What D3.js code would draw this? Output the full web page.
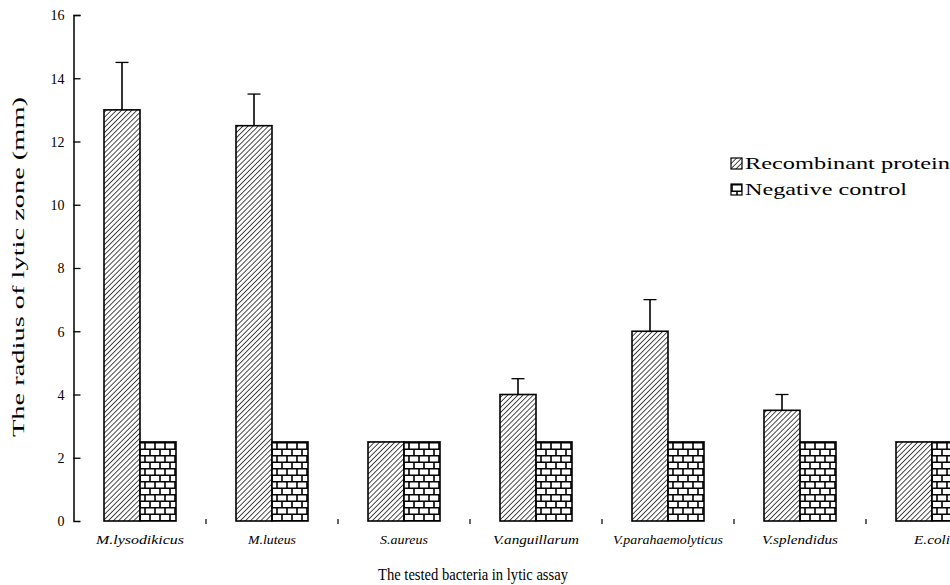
<!DOCTYPE html>
<html><head><meta charset="utf-8">
<script src="https://cdn.jsdelivr.net/npm/d3@7"></script>
<style>body{margin:0;background:#fff}svg{display:block}text{font-family:"Liberation Serif","Times New Roman",serif;fill:#000}</style>
</head><body><svg id="c" width="950" height="585"></svg>
<script>
const categories = ["M.lysodikicus","M.luteus","S.aureus","V.anguillarum","V.parahaemolyticus","V.splendidus","E.coli"];
const seriesNames = ["Recombinant protein","Negative control"];
const recombinant = [13, 12.5, 2.5, 4, 6, 3.5, 2.5];
const recombinantErr = [1.5, 1, 0, 0.5, 1, 0.5, 0];
const negative = [2.5, 2.5, 2.5, 2.5, 2.5, 2.5, 2.5];
const yTicks = [0, 2, 4, 6, 8, 10, 12, 14, 16];

const SERIF = "Liberation Serif";
const svg = d3.select("#c");
const defs = svg.append("defs");
const h = defs.append("pattern").attr("id","hatch").attr("patternUnits","userSpaceOnUse")
  .attr("width",3.6).attr("height",3.6).attr("patternTransform","rotate(45)");
h.append("rect").attr("width",3.6).attr("height",3.6).attr("fill","#fff");
h.append("line").attr("x1",0).attr("y1",0).attr("x2",0).attr("y2",3.6).attr("stroke","#000").attr("stroke-width",1.4);
const b = defs.append("pattern").attr("id","brick").attr("patternUnits","userSpaceOnUse")
  .attr("width",10).attr("height",13);
b.append("rect").attr("width",10).attr("height",13).attr("fill","#fff");
b.append("path").attr("d","M0,0.75H10M0,7.25H10M1,0.75V7.25M6,7.25V13.75")
  .attr("stroke","#000").attr("stroke-width",1.6).attr("fill","none");

const y = d3.scaleLinear().domain([0,16]).range([521,15]);
const x = d3.scaleBand().domain(categories).range([74,998]).paddingInner(60/132).paddingOuter(30/132);
const xs = d3.scaleBand().domain(seriesNames).range([0, x.bandwidth()]);

const fills = {"Recombinant protein":"url(#hatch)","Negative control":"url(#brick)"};
const data = categories.map((c,i)=>({c, vals:[
  {s:seriesNames[0], v:recombinant[i], e:recombinantErr[i]},
  {s:seriesNames[1], v:negative[i], e:0}]}));

const g = svg.append("g");
const grp = g.selectAll("g.cat").data(data).join("g").attr("transform",d=>`translate(${x(d.c)},0)`);
grp.selectAll("rect").data(d=>d.vals).join("rect")
  .attr("x",d=>xs(d.s)).attr("y",d=>y(d.v)).attr("width",xs.bandwidth()).attr("height",d=>y(0)-y(d.v))
  .attr("fill",d=>fills[d.s]).attr("stroke","#000").attr("stroke-width",1.6);
grp.selectAll("g.err").data(d=>d.vals.filter(v=>v.e>0)).join("g").each(function(d){
  const cx = xs(d.s)+xs.bandwidth()/2;
  const s = d3.select(this);
  s.append("line").attr("x1",cx).attr("x2",cx).attr("y1",y(d.v)).attr("y2",y(d.v+d.e)).attr("stroke","#000").attr("stroke-width",1.6);
  s.append("line").attr("x1",cx-6.5).attr("x2",cx+6.5).attr("y1",y(d.v+d.e)).attr("y2",y(d.v+d.e)).attr("stroke","#000").attr("stroke-width",1.3);
});

// y axis
const ya = svg.append("g").attr("transform","translate(73.5,0)")
  .call(d3.axisLeft(y).tickValues(yTicks).tickSize(-7).tickPadding(9).tickFormat(d3.format("d")));
ya.attr("font-family",SERIF);
ya.select(".domain").attr("stroke","#000").attr("stroke-width",1.5);
ya.selectAll(".tick line").attr("stroke","#000").attr("stroke-width",1.3);
ya.selectAll(".tick text").attr("font-size",14).attr("font-family",SERIF).attr("dy","0.35em");
ya.selectAll(".tick").filter(d=>d===0).select("line").remove();

// x axis labels
const labelWidths = {"M.lysodikicus":88,"M.luteus":48,"S.aureus":48,"V.anguillarum":86,"V.parahaemolyticus":110,"V.splendidus":76,"E.coli":36};
const xa = svg.append("g").attr("transform","translate(0,521)")
  .call(d3.axisBottom(x).tickSize(0).tickPadding(14));
xa.attr("font-family",SERIF);
xa.select(".domain").remove();
xa.selectAll(".tick text").attr("font-size",12).attr("font-style","italic").attr("font-family",SERIF)
  .attr("textLength",d=>labelWidths[d]).attr("lengthAdjust","spacingAndGlyphs");
svg.append("g").selectAll("line").data(categories.slice(1)).join("line")
  .attr("x1",d=>x(d)-x.step()*x.paddingInner()/2).attr("x2",d=>x(d)-x.step()*x.paddingInner()/2)
  .attr("y1",519).attr("y2",524).attr("stroke","#000").attr("stroke-width",1.2);

// titles
svg.append("text").attr("x",473).attr("y",580).attr("text-anchor","middle").attr("font-size",17)
  .attr("font-family",SERIF).attr("textLength",190).attr("lengthAdjust","spacingAndGlyphs")
  .text("The tested bacteria in lytic assay");
svg.append("text").attr("transform","translate(24,267) rotate(-90)").attr("text-anchor","middle").attr("font-size",16)
  .attr("font-family",SERIF).attr("textLength",340).attr("lengthAdjust","spacingAndGlyphs")
  .text("The radius of lytic zone (mm)");

// legend
const legendWidths = [205, 162];
const lg = svg.append("g").attr("transform","translate(731,158)");
seriesNames.forEach((s,i)=>{
  lg.append("rect").attr("x",0).attr("y",i*26).attr("width",11).attr("height",11).attr("fill",fills[s]).attr("stroke","#000").attr("stroke-width",1.2);
  lg.append("text").attr("x",14).attr("y",i*26+11).attr("font-size",17).attr("font-family",SERIF)
    .attr("textLength",legendWidths[i]).attr("lengthAdjust","spacingAndGlyphs").text(s);
});
</script></body></html>
